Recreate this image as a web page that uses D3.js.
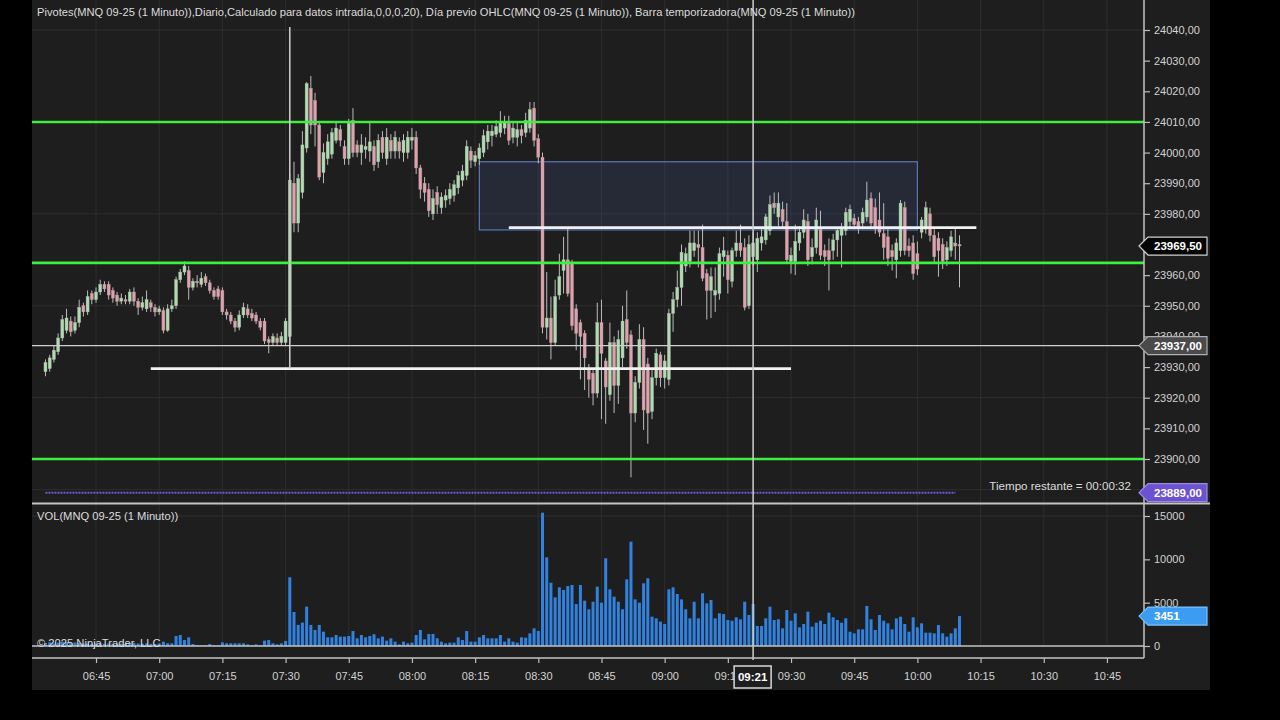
<!DOCTYPE html>
<html><head><meta charset="utf-8">
<script src="https://cdn.jsdelivr.net/npm/d3@7"></script>
<style>
html,body{margin:0;padding:0;background:#000;}
svg{display:block;font-family:"Liberation Sans",Arial,sans-serif;}
</style></head><body>
<svg id="c" width="1280" height="720"></svg>
<script>
// ---------- DATA ----------
const startMinute = 393; // first bar 06:33, one bar per minute
const opens = [
23928.5,23929.5,23932.5,23935,23939.5,23942,23945,23942,23944.5,23950,23948,23954,23952,23954.5,23957,23957,23955,23953.5,23951.5,23952,
23951.5,23954.5,23951.5,23949.5,23949,23951,23949.5,23948,23948.5,23942,23949,23950,23958.5,23961,23961.5,23956,23958,23957,23959.5,23957.5,
23955,23955.5,23955,23948,23947,23945,23943,23947,23949,23947.5,23947,23945,23945,23939,23938,23939.5,23938,23938,
23940,23990,23977,23987,24001.5,24021,24017,24009,23993.5,23998,23999.5,24004,24007.5,24002,23998,24010.5,24002.5,24000,24001,24000.5,
24002,23997,24005,23998,24004,24000.5,24003.5,24000,24000,24004,24005,23995,23990,23988,23980,23987,23982,23984.5,23985,23986,
23988.5,23991,23992.5,24000.5,23997,23998,24000,24003.5,24005.5,24006,24006.5,24008,24009.5,24005,24005,24007.5,24006.5,24008,24014.5,24004.5,
23998.5,23943,23946,23938,23953.5,23961.5,23965,23964,23949,23944.5,23941,23929,23928,23921.5,23944.5,23932,23921,23938,23924,23933,
23945.5,23940.5,23915,23925,23939,23931,23915.5,23926.5,23934,23926.5,23926,23947.5,23952,23956,23963,23964.5,23968,23970,23969,23960.5,
23955,23953.5,23954,23966,23966.5,23958,23968,23970.5,23969,23950,23966,23965,23970.5,23971.5,23974.5,23983.5,23979,23981.5,23977.5,23964.5,
23964.5,23970.5,23974,23977.5,23966,23969,23975,23968,23968,23968,23971.5,23973,23974.5,23977.5,23978.5,23977.5,23977,23979,23985,23982,
23978,23973.5,23972.5,23968,23965,23968,23982,23969.5,23970.5,23967,23974,23975,23980,23973,23972,23970,23965,23968,23970.5,23970];
const highs = [
23932.5,23934,23937,23941,23947,23949,23946.5,23946.5,23952,23951,23955,23955,23956,23958.5,23958,23958,23956,23954.5,23954,23953.5,
23955.5,23956,23952.5,23953,23955,23952,23950.5,23950,23949.5,23950.5,23952,23959.5,23962,23964.5,23963,23959,23960,23961,23960.5,23958.5,
23956,23956.5,23956,23949,23948,23946,23948.5,23951,23950.5,23949,23948,23946,23946,23940,23941,23941,23941.5,23946,
23993,23997,23993,24007,24023,24025,24019.5,24010,24003,24006,24008,24010,24009,24004,24011,24014.5,24004,24006,24005,24010,
24004,24006,24007,24008,24006,24007,24005,24006,24007,24008,24007,23996,23992,23990,23988,23989,23987,23988,23990,23991,
23994,23996,24004,24002,24000.5,24003,24007.5,24009,24009,24010.5,24013.5,24012,24012,24010,24010,24009,24013,24016.5,24016.5,24006,
24000,23961,23953,23958.5,23967,23972.5,23975.5,23965,23950.5,23945.5,23942,23931,23929,23951,23952,23933,23944.5,23940,23942,23950,
23955,23942,23927,23944,23943,23933,23929,23936,23935,23934,23949,23954.5,23961.5,23970,23969,23974.5,23974.5,23974.5,23976.5,23962,
23962.5,23962.5,23969,23972.5,23968,23969,23974.5,23976.5,23972,23973,23974,23974,23975.5,23980,23986,23987,23987,23984,23983.5,23969,
23976.5,23976,23981.5,23980,23972,23982,23981,23970,23972,23973.5,23975.5,23977,23982,23983,23980,23979,23982,23990.5,23987,23985,
23987,23983.5,23975,23970,23972,23984.5,23984,23972,23973,23971,23979,23984,23982,23975,23974,23972,23971,23974.5,23975.5,23973];
const lows = [
23927,23928.5,23931.5,23934,23938.5,23941,23940,23941,23943,23946.5,23947,23950.5,23951,23953.5,23954.5,23952,23951,23950,23950.5,23950.5,
23950.5,23950,23947,23948.5,23948,23948,23946.5,23947,23941,23941.5,23948,23949,23957.5,23960,23952,23955,23956,23956,23956.5,23954,
23952,23952,23947,23945.5,23944,23941.5,23942,23946,23946,23945,23944,23942,23937.5,23934.5,23937,23937,23937,23937,
23938,23974,23974,23985,24000,24006,24002,23991,23990,23996,23998,24003,24002,23996,23996,23998.5,23998.5,23996,23998,23997,
23994,23995,23998,23996,23998,23998,23998,23997,23998,24001,23993,23985,23984,23979,23978,23980,23980,23982,23983,23984,
23986.5,23989,23991,23995,23995.5,23996,23998.5,24001,24002,24005,24005,24006,24002.5,24003,24002,24003,24005,24006.5,24002,23996.5,
23941,23939,23932.5,23937,23952,23954,23953,23942,23935.5,23926,23922.5,23920,23917.5,23920,23913,23911.5,23919,23915,23918,23930,
23936,23894,23912,23923,23909.5,23905,23913,23924,23923.5,23923,23924,23941.5,23949.5,23950,23961,23962.5,23966,23962.5,23958,23945.5,
23946,23948,23952,23959.5,23954,23956,23966,23966,23948.5,23949,23963,23961,23968,23970,23973,23980,23976,23975.5,23964,23960.5,
23960,23968,23972,23963,23963.5,23967,23965,23963,23955,23965,23966,23962.5,23973,23975.5,23975,23973.5,23975,23977.5,23975,23973.5,
23972.5,23965,23963,23961.5,23959,23966,23966.5,23966,23958.5,23960,23972,23973.5,23971,23964,23959.5,23962,23963,23966,23965,23956];
const closes = [
23931.5,23933,23935.5,23939.5,23945.5,23946,23941.5,23944.5,23949.5,23948,23953,23952,23954.5,23957,23955.5,23953.5,23952.5,23951.5,23952.5,23951.5,
23954.5,23951.5,23949.5,23951,23952,23949.5,23948,23949,23942,23949,23950,23958.5,23961,23963,23956,23958,23957.5,23959,23957.5,23955,
23953,23953,23948,23947,23945,23943,23947,23949.5,23947,23946,23945,23943,23938.5,23938,23940,23938,23940,23945,
23991,23977,23991.5,24002.5,24022.5,24009,24009,23992,24000,24003.5,24006.5,24008,24004,23998,24009.5,24000,24000,24002.5,24002,24003.5,
23996,24004,24000,24005,24000.5,24005,24000.5,24004,24005,24005,23995,23988,23987,23981,23985,23983,23985.5,23986,23988,23989.5,
23992.5,23994,24002,23997.5,23999,24001.5,24005.5,24007,24007,24008.5,24010,24010,24004,24008,24007.5,24005.5,24010.5,24014,24004,23998.5,
23943,23946,23938,23953,23959.5,23965,23954,23943.5,23941,23940,23933,23926,23921.5,23944.5,23934.5,23923.5,23938,23924,23939,23945,
23938,23915,23925,23939,23916,23915,23926.5,23934.5,23926.5,23932,23947.5,23952,23956,23967.5,23967,23970.5,23970.5,23969,23959,23955,
23959.5,23955,23967,23968,23958.5,23968,23970.5,23968,23949.5,23970,23970.5,23972,23972.5,23979,23983,23982,23983.5,23977.5,23965,23966.5,
23971,23974,23978,23965,23969,23978,23966.5,23966,23965,23971.5,23974.5,23975.5,23980.5,23981.5,23976.5,23975.5,23980.5,23984.5,23977,23975.5,
23974,23969,23965.5,23966,23970.5,23983.5,23968,23968,23960.5,23962,23978,23982,23973,23966,23968,23964.5,23969,23972.5,23969.5,23969.5];
const volumes = [
350,420,300,380,500,450,300,400,350,280,300,250,320,300,260,300,280,250,270,240,300,350,280,260,300,250,230,300,
500,310,310,1155,1270,690,1000,230,115,80,80,230,80,80,420,310,310,310,310,310,190,80,190,80,615,690,310,190,310,580,
7930,3930,2430,2700,4540,2430,1850,2430,1655,1000,1000,1270,1080,1080,1155,1730,885,1270,1000,1155,1350,885,1080,615,885,500,190,500,310,385,
1270,1850,770,1390,1390,885,500,310,385,385,1000,690,1730,500,500,1000,1270,885,885,885,1270,500,885,500,385,1000,960,
1460,2040,1730,
15380,10230,7300,5610,6770,6460,6920,7040,4840,7040,5230,4230,5110,6850,5000,10120,6540,5690,5110,4230,
7690,12040,5380,5000,7230,7810,3380,3190,2810,2540,6540,6770,6000,5380,4230,3190,5110,3190,6080,4920,
5310,3190,3770,3690,3000,2920,3310,3080,5110,3580,4840,2310,2310,3190,4540,3000,3080,2040,4150,2920,
3770,2150,2540,3960,2230,2690,2920,2540,3850,3310,3000,2690,3190,1650,1460,1920,1920,4620,3080,1850,
3580,2920,2620,1920,3190,3380,2540,1650,3310,2150,2620,1540,1540,1460,2420,1460,1080,1460,2040,3451];

const pivotLevels = [24010, 23964, 23900];
const priceTicks = [23890,23900,23910,23920,23930,23940,23950,23960,23970,23980,23990,24000,24010,24020,24030,24040];
const priceGrid = [23890,23920,23950,23980,24010,24040];
const volumeTicks = [0,5000,10000,15000];
const timeTicks = [405,420,435,450,465,480,495,510,525,540,555,570,585,600,615,630,645];
const rectZone = {t0:496, t1:600, p0:23997, p1:23974.75};
const whiteLines = [{t0:418, t1:570, p:23929.5},{t0:503, t1:614, p:23975.5}];
const vLine = {t:451, p0:24041, p1:23929.5};
const purpleLine = {t0:393, t1:609, p:23889};
const cursor = {t:561, p:23937};
const lastPrice = 23969.5, lastVol = 3451;
const titleText = "Pivotes(MNQ 09-25 (1 Minuto)),Diario,Calculado para datos intradía,0,0,0,20), Día previo OHLC(MNQ 09-25 (1 Minuto)), Barra temporizadora(MNQ 09-25 (1 Minuto))";

// ---------- DRAW ----------
const svg = d3.select("#c");
const fmtP = d3.formatLocale({decimal:",",thousands:".",grouping:[3],currency:["",""]}).format(".2f");
const pad = n => String(n).padStart(2,"0");
const fmtT = m => pad(Math.floor(m/60)) + ":" + pad(m%60);

svg.append("rect").attr("width",1280).attr("height",720).attr("fill","#000");
svg.append("rect").attr("x",32).attr("y",0).attr("width",1178).attr("height",690).attr("fill","#1e1e1e");

const x = d3.scaleLinear().domain([389.8,653.8]).range([32,1144]);
const y = d3.scaleLinear().domain([23900,24040]).range([459,30]);
const yv = d3.scaleLinear().domain([0,15000]).range([646,516]);

// grid
const grid = svg.append("g").attr("stroke","#2e2e2e").attr("stroke-width",1);
timeTicks.forEach(t=>{
  grid.append("line").attr("x1",x(t)).attr("x2",x(t)).attr("y1",0).attr("y2",503);
  grid.append("line").attr("x1",x(t)).attr("x2",x(t)).attr("y1",505).attr("y2",646);
});
priceGrid.forEach(p=>grid.append("line").attr("x1",32).attr("x2",1144).attr("y1",y(p)).attr("y2",y(p)));
grid.append("line").attr("x1",32).attr("x2",1144).attr("y1",yv(15000)).attr("y2",yv(15000));

// zone rect
svg.append("rect").attr("x",x(rectZone.t0)).attr("y",y(rectZone.p0))
  .attr("width",x(rectZone.t1)-x(rectZone.t0)).attr("height",y(rectZone.p1)-y(rectZone.p0))
  .attr("fill","rgba(70,85,140,0.22)").attr("stroke","#5a78b8").attr("stroke-width",1.2);

// candles
const idx = d3.range(opens.length);
const cg = svg.append("g");
cg.selectAll("line.w").data(idx).join("line")
  .attr("x1",i=>x(startMinute+i)).attr("x2",i=>x(startMinute+i))
  .attr("y1",i=>y(highs[i])).attr("y2",i=>y(lows[i]))
  .attr("stroke","#bcbcbc").attr("stroke-width",1);
cg.selectAll("rect.b").data(idx).join("rect")
  .attr("x",i=>x(startMinute+i)-1.5).attr("width",3)
  .attr("y",i=>y(Math.max(opens[i],closes[i])))
  .attr("height",i=>Math.max(1,Math.abs(y(opens[i])-y(closes[i]))))
  .attr("fill",i=>closes[i]>=opens[i]?"#b4d8b4":"#d8a4ae")
  .attr("stroke",i=>closes[i]>=opens[i]?"#a0c4a0":"#c6929c").attr("stroke-width",0.4);

// pivot lines
pivotLevels.forEach(p=>svg.append("line").attr("x1",32).attr("x2",1144).attr("y1",y(p)).attr("y2",y(p))
  .attr("stroke","#3ef03e").attr("stroke-width",2.6));
// purple dotted
svg.append("line").attr("x1",x(purpleLine.t0)).attr("x2",x(purpleLine.t1)).attr("y1",y(purpleLine.p)).attr("y2",y(purpleLine.p))
  .attr("stroke","#6e5ad6").attr("stroke-width",2).attr("stroke-dasharray","2,1");
// white lines
whiteLines.forEach(l=>svg.append("line").attr("x1",x(l.t0)).attr("x2",x(l.t1)).attr("y1",y(l.p)).attr("y2",y(l.p))
  .attr("stroke","#f2f2f2").attr("stroke-width",2.6));
svg.append("line").attr("x1",x(vLine.t)).attr("x2",x(vLine.t)).attr("y1",y(vLine.p0)).attr("y2",y(vLine.p1))
  .attr("stroke","#c8c8c8").attr("stroke-width",1.6);

// volume bars
svg.append("g").selectAll("rect").data(idx).join("rect")
  .attr("x",i=>x(startMinute+i)-1.5).attr("width",3)
  .attr("y",i=>yv(volumes[i])).attr("height",i=>yv(0)-yv(volumes[i]))
  .attr("fill","#3082de");

// crosshair
svg.append("line").attr("x1",32).attr("x2",1144).attr("y1",y(cursor.p)).attr("y2",y(cursor.p))
  .attr("stroke","#cfcfcf").attr("stroke-width",1.2);
svg.append("line").attr("x1",x(cursor.t)).attr("x2",x(cursor.t)).attr("y1",0).attr("y2",660)
  .attr("stroke","#cfcfcf").attr("stroke-width",1.5);

// frame lines
const fr = svg.append("g").attr("stroke","#c4c4c4");
fr.append("line").attr("x1",1144).attr("x2",1144).attr("y1",0).attr("y2",658).attr("stroke-width",1.5);
fr.append("line").attr("x1",32).attr("x2",1210).attr("y1",503.5).attr("y2",503.5).attr("stroke-width",2);
fr.append("line").attr("x1",32).attr("x2",1144).attr("y1",yv(0)).attr("y2",yv(0)).attr("stroke-width",1.5);
fr.append("line").attr("x1",32).attr("x2",1144).attr("y1",658).attr("y2",658).attr("stroke-width",1.5);

function styleAxis(g){
  g.select(".domain").remove();
  g.selectAll(".tick line").attr("stroke","#bdbdbd").attr("stroke-width",1.2);
  g.selectAll(".tick text").attr("fill","#d2d2d2").style("font-size","11px").style("font-family","'Liberation Sans',Arial,sans-serif");
}
svg.append("g").attr("transform","translate(1144,0)")
  .call(d3.axisRight(y).tickValues(priceTicks).tickFormat(fmtP).tickSize(6).tickPadding(4)).call(styleAxis);
svg.append("g").attr("transform","translate(1144,0)")
  .call(d3.axisRight(yv).tickValues(volumeTicks).tickFormat(d3.format("d")).tickSize(6).tickPadding(4)).call(styleAxis);
svg.append("g").attr("transform","translate(0,658)")
  .call(d3.axisBottom(x).tickValues(timeTicks).tickFormat(fmtT).tickSize(5).tickPadding(9)).call(styleAxis);

// price/volume labels on axis
function flag(cy, text, fill, stroke){
  const g = svg.append("g");
  g.append("path").attr("d",`M1139,${cy} L1148,${cy-9} L1207,${cy-9} L1207,${cy+9} L1148,${cy+9} Z`)
    .attr("fill",fill).attr("stroke",stroke).attr("stroke-width",1.2);
  g.append("text").attr("x",1154).attr("y",cy).attr("dy","0.35em").text(text)
    .attr("fill","#fff").style("font-size","11.5px").style("font-weight","bold");
}
flag(y(lastPrice), fmtP(lastPrice), "#050505", "#d0d0d0");
flag(y(cursor.p), fmtP(cursor.p), "#4a4a4a", "#b0b0b0");
flag(y(purpleLine.p), fmtP(purpleLine.p), "#6a52d0", "#9a8ae0");
flag(yv(lastVol), String(lastVol), "#3c9cf2", "#7cc0f8");

// time cursor label
svg.append("rect").attr("x",x(cursor.t)-19).attr("y",666).attr("width",37).attr("height",22)
  .attr("fill","#1e1e1e").attr("stroke","#d8d8d8").attr("stroke-width",1.5);
svg.append("text").attr("x",x(cursor.t)-0.5).attr("y",677).attr("dy","0.35em").attr("text-anchor","middle")
  .text(fmtT(cursor.t)).attr("fill","#fff").style("font-size","11.5px").style("font-weight","bold");

// texts
const txt = (xx,yy,s,anchor,fs)=>svg.append("text").attr("x",xx).attr("y",yy).attr("text-anchor",anchor||"start")
  .text(s).attr("fill","#dcdcdc").style("font-size",(fs||11)+"px");
txt(37,16,titleText,"start",11.15);
txt(37,520,"VOL(MNQ 09-25 (1 Minuto))","start",11.2);
txt(37,647,"© 2025 NinjaTrader, LLC","start",11.2);
txt(1131,490,"Tiempo restante = 00:00:32","end",11.6);
</script>
</body></html>
